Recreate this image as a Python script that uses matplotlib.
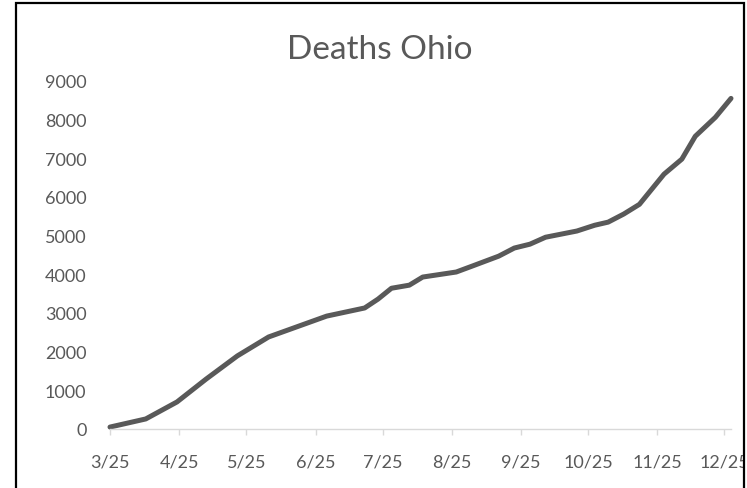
import matplotlib
matplotlib.use('Agg')
import matplotlib.pyplot as plt
import matplotlib.dates as mdates
from matplotlib.patches import Rectangle
import pandas as pd

# cumulative deaths reported in Ohio, 2020
dates = ['2020-03-25', '2020-04-10', '2020-04-24', '2020-05-07', '2020-05-21',
         '2020-06-04', '2020-06-17', '2020-06-30', '2020-07-17', '2020-07-23',
         '2020-07-29', '2020-08-06', '2020-08-12', '2020-08-27', '2020-09-03',
         '2020-09-15', '2020-09-22', '2020-09-29', '2020-10-06', '2020-10-20',
         '2020-10-28', '2020-11-03', '2020-11-10', '2020-11-17', '2020-11-28',
         '2020-12-06', '2020-12-12', '2020-12-21', '2020-12-28']
deaths = [50, 260, 700, 1290, 1890,
          2380, 2650, 2920, 3130, 3360,
          3640, 3720, 3930, 4060, 4210,
          4470, 4680, 4780, 4960, 5120,
          5270, 5350, 5560, 5810, 6590,
          6980, 7570, 8060, 8550]
month_ticks = ['2020-03-25', '2020-04-25', '2020-05-25', '2020-06-25', '2020-07-25',
               '2020-08-25', '2020-09-25', '2020-10-25', '2020-11-25', '2020-12-25']
y_ticks = [0, 1000, 2000, 3000, 4000, 5000, 6000, 7000, 8000, 9000]

grey = '#595959'
axis_grey = '#d9d9d9'
font = ['Lato', 'DejaVu Sans']

W, H = 747, 489
fig = plt.figure(figsize=(W / 100, H / 100), dpi=100, facecolor='white')
ax = fig.add_axes([110 / W, (H - 430) / H, (731 - 110) / W, (430 - 82) / H])

x = pd.to_datetime(dates)
ax.plot(x, deaths, color=grey, linewidth=3.6, solid_capstyle='round',
        solid_joinstyle='round', clip_on=False)

ax.set_xlim(pd.Timestamp(dates[0]), pd.Timestamp(dates[-1]))
ax.set_ylim(0, 9000)
ax.set_xticks(pd.to_datetime(month_ticks))
ax.xaxis.set_major_formatter(mdates.DateFormatter('%-m/%d'))
ax.set_yticks(y_ticks)

for side in ['top', 'right', 'left']:
    ax.spines[side].set_visible(False)
ax.spines['bottom'].set_color(axis_grey)
ax.spines['bottom'].set_linewidth(1.0)

ax.tick_params(axis='x', colors=axis_grey, length=4.5, width=1.0, pad=13,
               labelcolor=grey, labelsize=13)
ax.tick_params(axis='y', length=0, pad=17, labelcolor=grey, labelsize=13)
for lab in ax.get_xticklabels() + ax.get_yticklabels():
    lab.set_family(font)

fig.text(380 / W, (H - 50) / H, 'Deaths Ohio', ha='center', va='center',
         fontsize=24, color=grey, family=font, fontweight='normal')

# white margin past the chart border, then the border itself
fig.patches.append(Rectangle((744 / W, 0), 3 / W, 1, transform=fig.transFigure,
                             facecolor='white', edgecolor='none', zorder=5))
fig.patches.append(Rectangle((16 / W, -0.05), (744 - 16) / W, (H - 4) / H + 0.05,
                             transform=fig.transFigure, facecolor='none',
                             edgecolor='black', linewidth=1.6, zorder=6))

fig.savefig('out.png', dpi=100, facecolor='white')
